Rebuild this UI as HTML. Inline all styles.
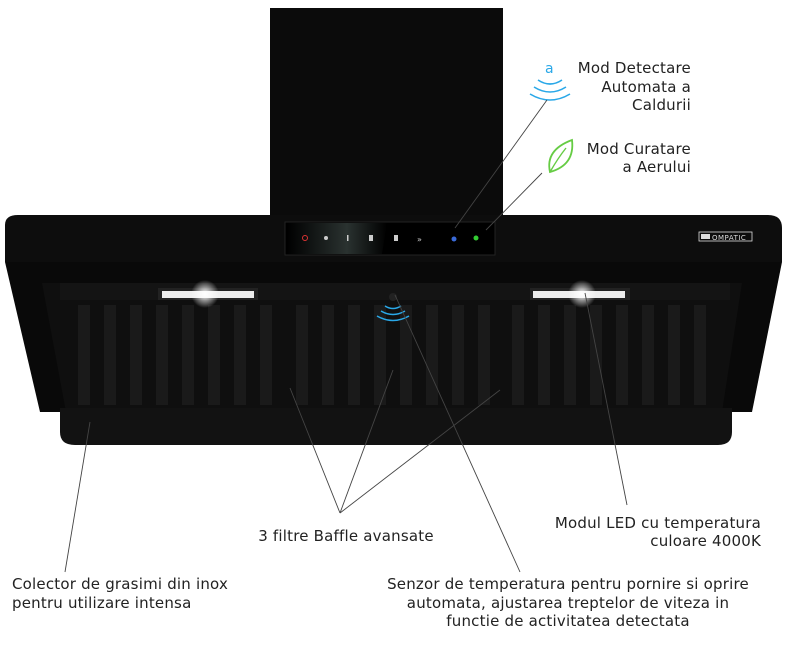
<!DOCTYPE html>
<html><head><meta charset="utf-8"><style>
html,body{margin:0;padding:0;background:#fff;width:794px;height:650px;overflow:hidden}
svg{display:block}
text{font-family:"DejaVu Sans","Liberation Sans",sans-serif;font-size:15px;letter-spacing:0.2px;fill:#222}
</style></head><body>
<svg width="794" height="650" viewBox="0 0 794 650">
<defs>
<radialGradient id="gl"><stop offset="0" stop-color="#fff" stop-opacity="1"/><stop offset="1" stop-color="#fff" stop-opacity="0"/></radialGradient>
<linearGradient id="gp" x1="0" y1="0" x2="1" y2="0"><stop offset="0" stop-color="#000"/><stop offset="0.6" stop-color="#2a3230"/><stop offset="1" stop-color="#000"/></linearGradient>
</defs>
<rect x="270" y="8" width="233" height="212" fill="#0b0b0b"/>
<path d="M5 262 L5 225 Q5 215 18 215 L768 215 Q782 215 782 228 L782 262 Z" fill="#0d0d0d"/>
<path d="M5 262 L782 262 L752 412 L40 412 Z" fill="#090909"/>
<path d="M42 283 L742 283 L722 412 L66 412 Z" fill="#0f0f0f"/>
<path d="M60 283 L730 283 L730 300 L60 300 Z" fill="#141414"/>
<g fill="#1a1a1a">
<rect x="78" y="305" width="12" height="100"/><rect x="104" y="305" width="12" height="100"/><rect x="130" y="305" width="12" height="100"/><rect x="156" y="305" width="12" height="100"/><rect x="182" y="305" width="12" height="100"/><rect x="208" y="305" width="12" height="100"/><rect x="234" y="305" width="12" height="100"/><rect x="260" y="305" width="12" height="100"/>
<rect x="296" y="305" width="12" height="100"/><rect x="322" y="305" width="12" height="100"/><rect x="348" y="305" width="12" height="100"/><rect x="374" y="305" width="12" height="100"/><rect x="400" y="305" width="12" height="100"/><rect x="426" y="305" width="12" height="100"/><rect x="452" y="305" width="12" height="100"/><rect x="478" y="305" width="12" height="100"/>
<rect x="512" y="305" width="12" height="100"/><rect x="538" y="305" width="12" height="100"/><rect x="564" y="305" width="12" height="100"/><rect x="590" y="305" width="12" height="100"/><rect x="616" y="305" width="12" height="100"/><rect x="642" y="305" width="12" height="100"/><rect x="668" y="305" width="12" height="100"/><rect x="694" y="305" width="12" height="100"/>
</g>
<path d="M60 408 L732 408 L732 432 Q732 445 718 445 L75 445 Q60 445 60 432 Z" fill="#121212"/>
<rect x="158" y="288" width="100" height="12" fill="#222"/>
<rect x="162" y="291" width="92" height="7" fill="#eee"/>
<rect x="530" y="288" width="100" height="12" fill="#222"/>
<rect x="533" y="291" width="92" height="7" fill="#eee"/>
<circle cx="205" cy="294" r="14" fill="url(#gl)"/>
<circle cx="582" cy="294" r="14" fill="url(#gl)"/>
<circle cx="393" cy="297" r="4" fill="#222"/>
<g fill="none" stroke="#2aa8e8" stroke-width="1.5">
<path d="M385 306 Q393 311 401 306"/><path d="M381 311 Q393 318 405 311"/><path d="M377 316 Q393 325 409 316"/>
</g>
<rect x="285" y="222" width="210" height="33" fill="#000" stroke="#222"/>
<path d="M287 223 L387 223 L382 254 L287 254 Z" fill="url(#gp)"/>
<circle cx="305" cy="238" r="2.5" fill="none" stroke="#d33"/>
<circle cx="326" cy="238" r="2" fill="#ccc"/>
<rect x="347" y="235" width="1.5" height="6" fill="#ccc"/>
<rect x="369" y="235" width="4" height="6" fill="#ccc"/>
<rect x="394" y="235" width="4" height="6" fill="#ccc"/>
<text x="417" y="242" style="font-size:8px;fill:#ccc">»</text>
<circle cx="454" cy="239" r="2.5" fill="#3a6ad8"/>
<circle cx="476" cy="238" r="2.5" fill="#3c3"/>
<rect x="699" y="232" width="53" height="9" fill="none" stroke="#ddd" stroke-width="0.8"/>
<text x="712" y="240" style="font-size:7px;fill:#ddd;letter-spacing:0.5px">OMPATIC</text>
<rect x="701" y="234" width="9" height="5" fill="#ddd"/>
<text x="545" y="73" style="fill:#2aa8e8;font-size:14px">a</text>
<g fill="none" stroke="#2aa8e8" stroke-width="1.6">
<path d="M538 80 Q550 88 562 80"/><path d="M534 87 Q550 97 566 87"/><path d="M530 94 Q550 106 570 94"/>
</g>
<path d="M550 172 Q545 150 572 140 Q575 165 550 172 Z" fill="none" stroke="#6c4" stroke-width="1.8"/>
<path d="M550 172 Q558 158 566 148" fill="none" stroke="#6c4" stroke-width="1.4"/>
<g stroke="#444" stroke-width="0.9" fill="none">
<path d="M455 228 L547 100"/><path d="M486 230 L542 173"/>
<path d="M90 422 L65 572"/>
<path d="M290 388 L340 513"/><path d="M393 370 L340 513"/><path d="M500 390 L340 513"/>
<path d="M395 295 L520 572"/>
<path d="M585 293 L627 505"/>
</g>
<g text-anchor="end">
<text x="691" y="73">Mod Detectare</text><text x="691" y="92">Automata a</text><text x="691" y="110">Caldurii</text>
<text x="691" y="154">Mod Curatare</text><text x="691" y="172">a Aerului</text>
<text x="761" y="528">Modul LED cu temperatura</text><text x="761" y="546">culoare 4000K</text>
</g>
<text x="346" y="541" text-anchor="middle">3 filtre Baffle avansate</text>
<text x="12" y="589">Colector de grasimi din inox</text>
<text x="12" y="608">pentru utilizare intensa</text>
<g text-anchor="middle">
<text x="568" y="589">Senzor de temperatura pentru pornire si oprire</text>
<text x="568" y="608">automata, ajustarea treptelor de viteza in</text>
<text x="568" y="626">functie de activitatea detectata</text>
</g>
</svg>
</body></html>
